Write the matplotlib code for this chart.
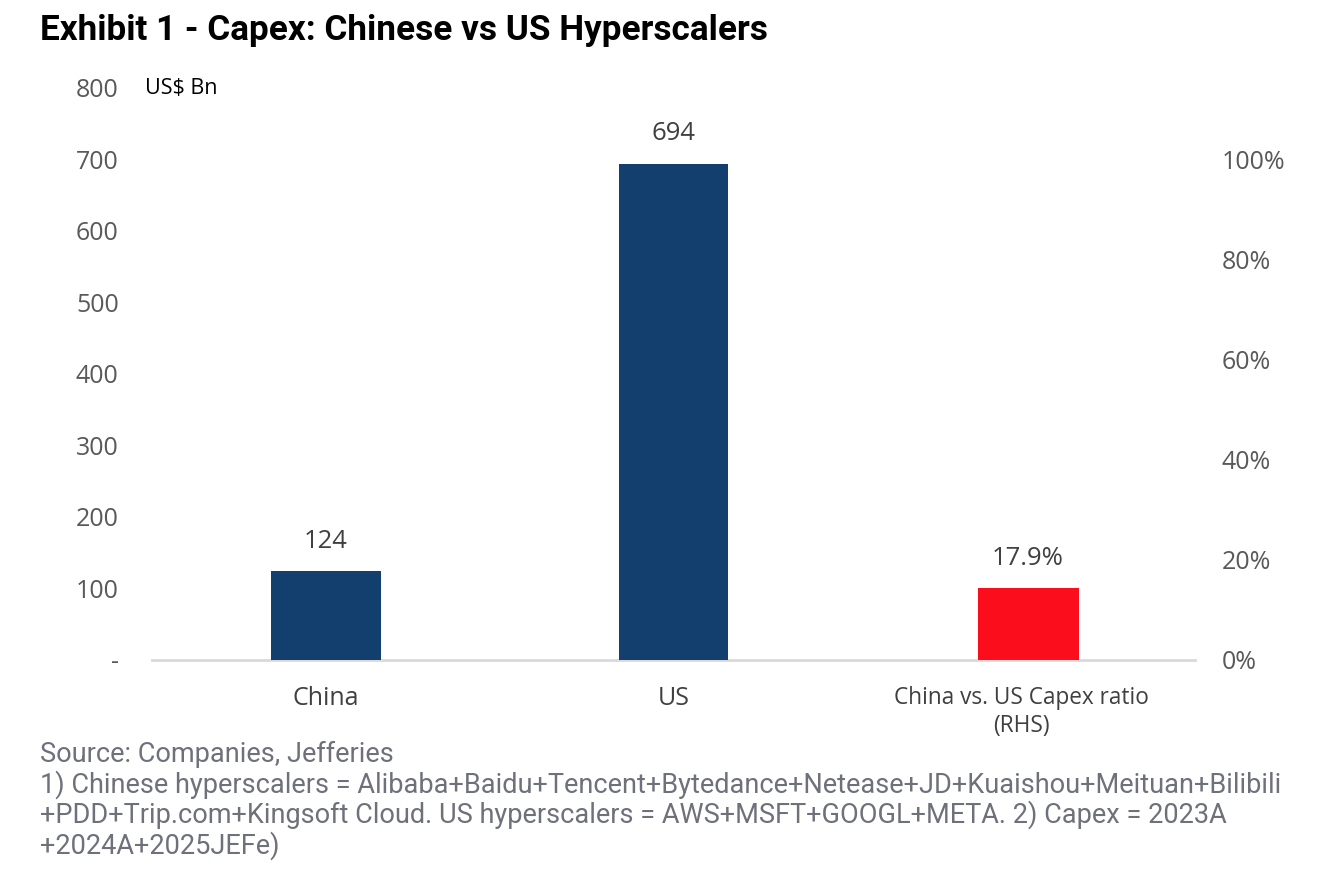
import matplotlib.pyplot as plt
from matplotlib.ticker import FuncFormatter

categories = ["China", "US", "China vs. US Capex ratio\n(RHS)"]
capex_bn = [124, 694]            # US$ Bn, left axis
ratio_label = 17.9               # % shown above the red bar
ratio_bar = 14.3                 # % height of red bar as read against RHS scale
left_ticks = [0, 100, 200, 300, 400, 500, 600, 700, 800]
right_ticks = [0, 20, 40, 60, 80, 100]

title = "Exhibit 1 - Capex: Chinese vs US Hyperscalers"
source = ("Source: Companies, Jefferies\n"
          "1) Chinese hyperscalers = Alibaba+Baidu+Tencent+Bytedance+Netease+JD+Kuaishou+Meituan+Bilibili\n"
          "+PDD+Trip.com+Kingsoft Cloud. US hyperscalers = AWS+MSFT+GOOGL+META. 2) Capex = 2023A\n"
          "+2024A+2025JEFe)")

navy = "#133f6e"
red = "#fc0d1b"
gray_tick = "#595959"
label_col = "#404040"

plt.rcParams['font.family'] = ['Open Sans', 'DejaVu Sans']

fig = plt.figure(figsize=(13.18, 8.74), dpi=100)
ax = fig.add_axes([0.1153, 0.2449, 0.7914, 0.6545])
ax2 = ax.twinx()

ax.bar([0, 1], capex_bn, width=0.315, color=navy, zorder=3)
for x, v in zip([0, 1], capex_bn):
    ax.text(x, v + 42, f"{v}", ha="center", va="center", fontsize=18.5, color=label_col)

ax2.bar([2.02], [ratio_bar], width=0.29, color=red, zorder=3)
ax2.text(2.02, ratio_bar + 6.0, f"{ratio_label}%", ha="center", va="center",
         fontsize=18.5, color=label_col)

ax.set_xlim(-0.5, 2.5)
ax.set_ylim(0, 800)
ax2.set_ylim(0, 800 / 7)
ax.set_yticks(left_ticks)
ax.yaxis.set_major_formatter(FuncFormatter(lambda v, p: "-" if v == 0 else f"{int(v)}"))
ax2.set_yticks(right_ticks)
ax2.yaxis.set_major_formatter(FuncFormatter(lambda v, p: f"{int(v)}%"))

for a in (ax, ax2):
    for s in a.spines.values():
        s.set_visible(False)
    a.tick_params(length=0, colors=gray_tick, labelsize=18)
ax.tick_params(axis="y", pad=24)
ax2.tick_params(axis="y", pad=19)
ax.tick_params(axis="x", pad=19, colors=label_col)
ax.spines["bottom"].set_visible(True)
ax.spines["bottom"].set_color("#d9d9d9")
ax.spines["bottom"].set_linewidth(2)

ax.set_xticks(range(3))
ax.set_xticklabels(categories)
xl = ax.get_xticklabels()
for lbl in xl[:2]:
    lbl.set_fontsize(18)
xl[2].set_fontsize(16.3)

fig.text(0.0304, 0.965, title, fontsize=25.3, fontweight="bold", family="Roboto",
         ha="left", va="center", color="black")
fig.text(0.110, 0.899, "US$ Bn", fontsize=15.5, ha="left", va="center", color="black")
fig.text(0.0304, 0.152, source, fontsize=19.5, family="Roboto", color="#6e707a",
         ha="left", va="top", linespacing=1.08)

fig.savefig("out.png", dpi=100)
